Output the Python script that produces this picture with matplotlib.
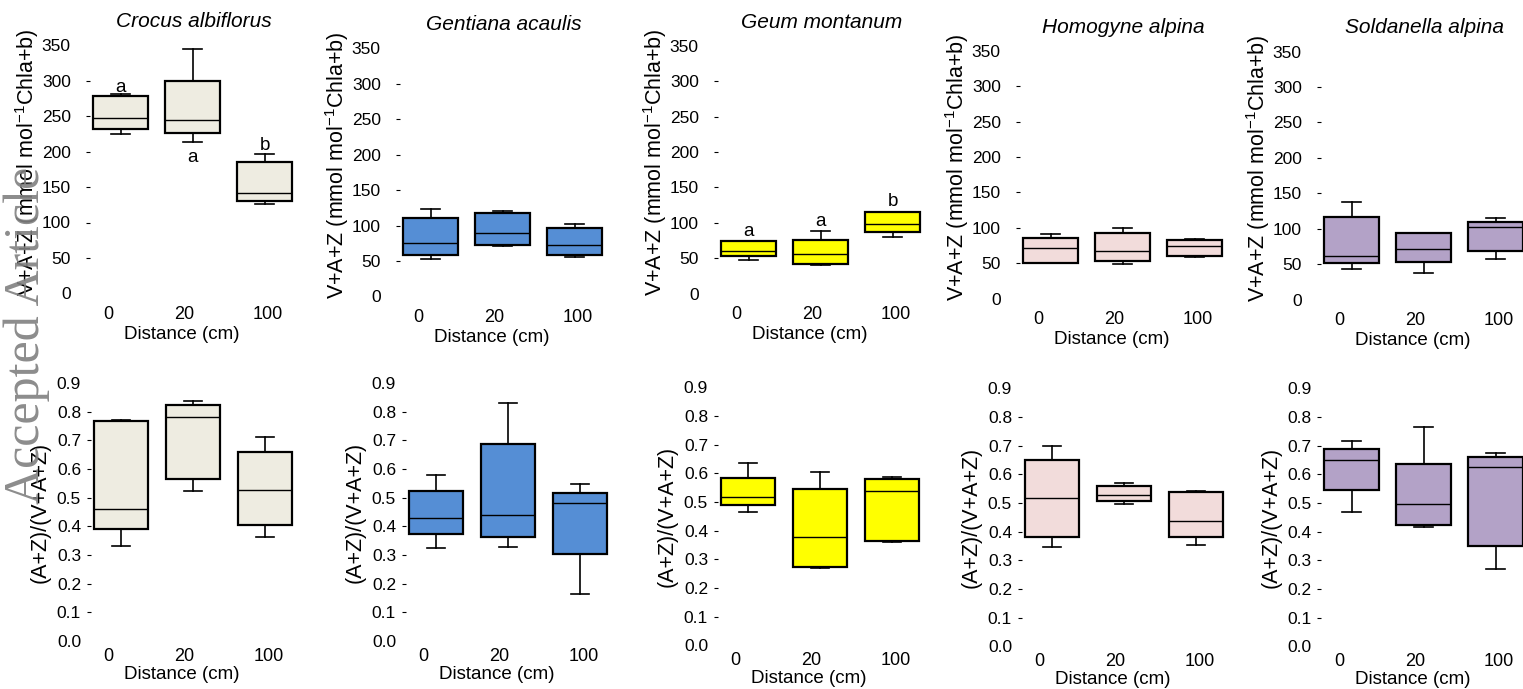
import matplotlib.pyplot as plt

plt.rcParams['font.family'] = ['Liberation Sans', 'DejaVu Sans']
plt.rcParams['mathtext.fontset'] = 'custom'
plt.rcParams['mathtext.rm'] = 'Liberation Sans'
plt.rcParams['mathtext.it'] = 'Liberation Sans:italic'

# species and distances
species = ["Crocus albiflorus", "Gentiana acaulis", "Geum montanum",
           "Homogyne alpina", "Soldanella alpina"]
colors = ["#EEECE1", "#558ED5", "#FFFF00", "#F2DCDB", "#B3A2C7"]
distances = ["0", "20", "100"]

# V+A+Z (mmol mol-1 Chla+b), rows = species, cols = distance
vaz_whislo = [[225, 214, 126], [53, 71, 56], [48, 41, 80], [50, 49, 59], [44, 38, 57]]
vaz_q1 = [[232, 226, 131], [59, 72, 59], [53, 42, 87], [50, 54, 61], [52, 53, 69]]
vaz_med = [[247, 245, 142], [76, 89, 73], [61, 56, 98], [71, 68, 74], [61, 71, 102]]
vaz_q3 = [[278, 299, 186], [111, 118, 96], [75, 76, 115], [86, 93, 83], [116, 94, 110]]
vaz_whishi = [[281, 345, 197], [124, 121, 102], [75, 88, 116], [91, 100, 84], [138, 94, 115]]

# (A+Z)/(V+A+Z)
ratio_whislo = [[0.331, 0.523, 0.364], [0.326, 0.329, 0.164], [0.464, 0.270, 0.362],
                [0.345, 0.497, 0.352], [0.469, 0.418, 0.269]]
ratio_q1 = [[0.390, 0.567, 0.405], [0.373, 0.364, 0.303], [0.488, 0.274, 0.364],
            [0.383, 0.508, 0.381], [0.546, 0.425, 0.349]]
ratio_med = [[0.459, 0.781, 0.527], [0.430, 0.440, 0.482], [0.517, 0.379, 0.539],
             [0.518, 0.528, 0.437], [0.649, 0.498, 0.627]]
ratio_q3 = [[0.767, 0.823, 0.659], [0.523, 0.687, 0.517], [0.583, 0.546, 0.579],
            [0.652, 0.559, 0.537], [0.688, 0.635, 0.659]]
ratio_whishi = [[0.771, 0.837, 0.712], [0.578, 0.829, 0.547], [0.636, 0.604, 0.586],
                [0.700, 0.571, 0.543], [0.717, 0.767, 0.675]]

# significance letters (top row only)
letters = {0: ["a", "a", "b"], 2: ["a", "a", "b"]}
letter_y = {0: [291, 191, 208], 2: [88, 102, 130]}

# layout in pixels
W, H = 1523, 689
PX = 72
XLIM = (-0.42, 2.45)
XTICK_POS = [-0.17, 0.88, 2.05]
centers_top = [120.5, 430.5, 748.5, 1050.5, 1351.5]
centers_bot = [121, 436, 748, 1052, 1351.5]
zero_top = [293.4, 296.5, 293.8, 298.8, 299.7]
zero_bot = [641, 641, 645.3, 646.3, 646.3]
XLAB_X = (0.85 - XLIM[0]) / (XLIM[1] - XLIM[0])

fig = plt.figure(figsize=(W / 100, H / 100), dpi=100)


def make_axes(cx, y0, h_px):
    left = cx + XLIM[0] * PX
    width = (XLIM[1] - XLIM[0]) * PX
    return fig.add_axes([left / W, 1 - y0 / H, width / W, h_px / H])


def draw_boxes(ax, i, lo, q1, med, q3, hi, color):
    stats = []
    for j in range(3):
        stats.append({"whislo": lo[i][j], "q1": q1[i][j], "med": med[i][j],
                      "q3": q3[i][j], "whishi": hi[i][j], "fliers": []})
    ax.bxp(stats, positions=[0, 1, 2], widths=0.76, capwidths=0.26,
           patch_artist=True, showfliers=False, manage_ticks=False,
           boxprops=dict(facecolor=color, edgecolor="black", linewidth=1.6),
           medianprops=dict(color="black", linewidth=1.0),
           whiskerprops=dict(color="black", linewidth=1.2),
           capprops=dict(color="black", linewidth=1.2))


def style(ax, yticks, ylabels, ypad, xpad, ylabel, ylab_off, ylab_y, xlab_y):
    for s in ax.spines.values():
        s.set_visible(False)
    ax.set_xlim(XLIM)
    ax.set_xticks(XTICK_POS, distances)
    ax.tick_params(axis="x", length=0, pad=xpad, labelsize=13)
    ax.set_yticks(yticks, ylabels)
    ax.set_ylim(yticks[0], yticks[-1])
    ax.tick_params(axis="y", length=3, width=0.8, pad=ypad, labelsize=12.5)
    ticks = ax.yaxis.get_major_ticks()
    ticks[0].tick1line.set_visible(False)
    ticks[-1].tick1line.set_visible(False)
    ax.set_xlabel("Distance (cm)", fontsize=13.5)
    ax.xaxis.set_label_coords(XLAB_X, xlab_y)
    ax.xaxis.label.set_va("top")
    ax.set_ylabel(ylabel, fontsize=15.5)
    width_px = (XLIM[1] - XLIM[0]) * PX
    ax.yaxis.set_label_coords(-ylab_off / width_px, ylab_y)


top_ticks = list(range(0, 351, 50))
bot_ticks = [k / 10 for k in range(10)]

for i, name in enumerate(species):
    # top row
    ax = make_axes(centers_top[i], zero_top[i], 350 * 0.709)
    draw_boxes(ax, i, vaz_whislo, vaz_q1, vaz_med, vaz_q3, vaz_whishi, colors[i])
    style(ax, top_ticks, [str(t) for t in top_ticks], 11, 9,
          "V+A+Z (mmol mol$^{-1}$Chla+b)", 49, 0.53, -0.13)
    ax.set_title(name, fontsize=15, style="italic", pad=13)
    if i in letters:
        for j in range(3):
            ax.text(j, letter_y[i][j], letters[i][j], ha="center", va="center",
                    fontsize=13.5)

    # bottom row
    ax = make_axes(centers_bot[i], zero_bot[i], 0.9 * 286.5)
    draw_boxes(ax, i, ratio_whislo, ratio_q1, ratio_med, ratio_q3, ratio_whishi, colors[i])
    style(ax, bot_ticks, ["%.1f" % t for t in bot_ticks], 4, 5,
          "(A+Z)/(V+A+Z)", 40, 0.5, -0.097)

fig.text(27 / W, 1 - 335 / H, "Accepted Article", rotation=90, fontsize=36,
         family="Liberation Serif", color="0.5", alpha=0.9,
         ha="center", va="center")

fig.savefig("out.png", dpi=100)
